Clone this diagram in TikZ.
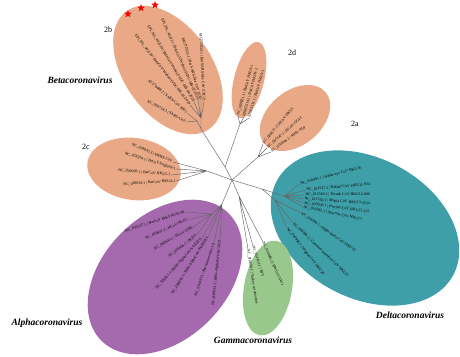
\documentclass[tikz,border=0pt]{standalone}
\usepackage{fontspec}
\setmainfont{Liberation Serif}
\usepackage{tikz}
\usepackage{xcolor}
\usetikzlibrary{shapes.geometric}
\definecolor{betaor}{HTML}{E9A986}
\definecolor{deltateal}{HTML}{3F9FA8}
\definecolor{alphapurp}{HTML}{A56AAE}
\definecolor{gammagrn}{HTML}{99C88D}

\begin{document}
\begin{tikzpicture}[x=1pt, y=-1pt,
        blob/.style={ellipse, inner sep=0pt},
        br/.style={draw=black!60, line width=0.45pt},
        leaf/.style={inner sep=0.4pt, font=\fontsize{3.9}{4.5}\selectfont},
        clade/.style={font=\fontsize{9.5}{11}\selectfont\bfseries\itshape},
        sub/.style={font=\fontsize{8}{9}\selectfont},
        redstar/.style={star, star points=5, star point ratio=2.4, fill=red, inner sep=0pt, minimum size=8pt}]
            \useasboundingbox (0,0) rectangle (460,356);

            \node[blob, fill=betaor, minimum width=144pt, minimum height=88pt, rotate=-55] (e2b) at (168,70) {};
            \node[blob, fill=betaor, minimum width=78pt, minimum height=30pt, rotate=76] (e2d) at (249,80) {};
            \node[blob, fill=betaor, minimum width=80pt, minimum height=54pt, rotate=40] (e2a) at (295,118) {};
            \node[blob, fill=betaor, minimum width=94pt, minimum height=62pt, rotate=-8] (e2c) at (134,169) {};
            \node[blob, fill=deltateal, minimum width=200pt, minimum height=140pt, rotate=-28] (edelta) at (365,228) {};
            \node[blob, fill=alphapurp, minimum width=180pt, minimum height=124pt, rotate=45] (ealpha) at (165,277) {};
            \node[blob, fill=gammagrn, minimum width=96pt, minimum height=48pt, rotate=80] (egamma) at (268,288) {};

            \node[clade] (beta) at (80,80) {Betacoronavirus};
            \node[clade] (delta) at (410,315) {Deltacoronavirus};
            \node[clade] (gamma) at (253,340) {Gammacoronavirus};
            \node[clade] (alpha) at (47,323) {Alphacoronavirus};
            \node[sub] (s2b) at (108,30) {2b};
            \node[sub] (s2d) at (292,53) {2d};
            \node[sub] (s2a) at (355,124) {2a};
            \node[sub] (s2c) at (86,147) {2c};

            \coordinate (hub) at (232,180);
            \coordinate (bi) at (225,167);
            \coordinate (b0) at (201,129);
            \coordinate (bA) at (197,121);
            \coordinate (bB) at (201,118);
            \coordinate (d0) at (240,124);
            \coordinate (a0) at (258,157);
            \coordinate (c0) at (207,171);
            \coordinate (de0) at (262,189);
            \coordinate (de1) at (284,196);
            \coordinate (de2) at (275,200);
            \coordinate (g0) at (239,196);
            \coordinate (al0) at (222,204);
            \coordinate (al1) at (212,214);

            \coordinate (t2b1) at (186,122);
            \coordinate (t2b2) at (187,113);
            \coordinate (t2b3) at (190,105);
            \coordinate (t2b4) at (194,102);
            \coordinate (t2b5) at (198,100);
            \coordinate (t2b6) at (201,101);
            \coordinate (t2b7) at (204,102);
            \coordinate (t2d1) at (238,116);
            \coordinate (t2d2) at (244,117);
            \coordinate (t2d3) at (249,118);
            \coordinate (t2a1) at (263,144);
            \coordinate (t2a2) at (267,148);
            \coordinate (t2a3) at (271,152);
            \coordinate (t2c1) at (173,162);
            \coordinate (t2c2) at (176,169);
            \coordinate (t2c3) at (171,175);
            \coordinate (t2c4) at (176,181);
            \coordinate (tde1) at (300,184);
            \coordinate (tde2) at (306,190);
            \coordinate (tde3) at (305,195);
            \coordinate (tde4) at (304,199);
            \coordinate (tde5) at (304,203);
            \coordinate (tde6) at (303,207);
            \coordinate (tde7) at (301,213);
            \coordinate (tde8) at (293,223);
            \coordinate (tde9) at (287,228);
            \coordinate (tg1) at (263,242);
            \coordinate (tg2) at (253,246);
            \coordinate (tg3) at (248,249);
            \coordinate (tal1) at (185,212);
            \coordinate (tal2) at (187,220);
            \coordinate (tal3) at (193,227);
            \coordinate (tal4) at (197,235);
            \coordinate (tal5) at (202,238);
            \coordinate (tal6) at (208,237);
            \coordinate (tal7) at (214,243);
            \coordinate (tal8) at (220,240);

            \draw[br] (hub) -- (bi) (bi) -- (b0) (b0) -- (bA) (b0) -- (bB) (bi) -- (d0);
            \draw[br] (bA) -- (t2b1) (bA) -- (t2b2);
            \draw[br] (bB) -- (t2b3) (bB) -- (t2b4) (bB) -- (t2b5) (bB) -- (t2b6) (bB) -- (t2b7);
            \draw[br] (d0) -- (t2d1) (d0) -- (t2d2) (d0) -- (t2d3);
            \draw[br] (hub) -- (a0) (a0) -- (t2a1) (a0) -- (t2a2) (a0) -- (t2a3);
            \draw[br] (hub) -- (c0) (c0) -- (t2c1) (c0) -- (t2c2) (c0) -- (t2c3) (c0) -- (t2c4);
            \draw[br] (hub) -- (de0) (de0) -- (de1) (de0) -- (de2);
            \draw[br] (de1) -- (tde1) (de1) -- (tde2) (de1) -- (tde3) (de1) -- (tde4) (de1) -- (tde5) (de1) -- (tde6);
            \draw[br] (de2) -- (tde7) (de2) -- (tde8) (de2) -- (tde9);
            \draw[br] (hub) -- (g0) (g0) -- (tg1) (g0) -- (tg2) (g0) -- (tg3);
            \draw[br] (hub) -- (al0) (al0) -- (al1) (al1) -- (tal1) (al1) -- (tal2) (al1) -- (tal3) (al1) -- (tal4);
            \draw[br] (al0) -- (tal5) (al0) -- (tal6) (al0) -- (tal7) (al0) -- (tal8);

            \node[leaf, anchor=east, rotate=-28] (n2b1) at (t2b1) {NC\_004718.3 | SARS-CoV};
            \node[leaf, anchor=east, rotate=-40] (n2b2) at (t2b2) {AY278488.2 | SARS-CoV BJ01};
            \node[leaf, anchor=east, rotate=-52] (n2b3) at (t2b3) {EPI\_ISL\_402119 | BetaCoV/Wuhan/IVDC-HB-01/2019};
            \node[leaf, anchor=east, rotate=-59] (n2b4) at (t2b4) {EPI\_ISL\_402120 | BetaCoV/Wuhan/IVDC-HB-04/2020};
            \node[leaf, anchor=east, rotate=-66] (n2b5) at (t2b5) {EPI\_ISL\_402121 | BetaCoV/Wuhan/IVDC-HB-05/2019};
            \node[leaf, anchor=east, rotate=-74] (n2b6) at (t2b6) {MG772933.1 | Bat SARS-like CoV ZC45};
            \node[leaf, anchor=east, rotate=-87] (n2b7) at (t2b7) {MG772934.1 | Bat SARS-like CoV ZXC21};
            \node[redstar] (star1) at (128,14) {};
            \node[redstar] (star2) at (141,8) {};
            \node[redstar] (star3) at (155,5) {};

            \node[leaf, anchor=west, rotate=74] (n2d1) at (t2d1) {NC\_009021.1 | BatCoV HKU9-1};
            \node[leaf, anchor=west, rotate=75] (n2d2) at (t2d2) {EF065514.1 | BatCoV HKU9-2};
            \node[leaf, anchor=west, rotate=73] (n2d3) at (t2d3) {EF065513.1 | BatCoV HKU9-1};
            \node[leaf, anchor=west, rotate=50] (n2a1) at (t2a1) {NC\_006577.2 | HCoV-HKU1};
            \node[leaf, anchor=west, rotate=41] (n2a2) at (t2a2) {NC\_005147.1 | HCoV-OC43};
            \node[leaf, anchor=west, rotate=36] (n2a3) at (t2a3) {NC\_001846.1 | MHV-A59};
            \node[leaf, anchor=east, rotate=-23] (n2c1) at (t2c1) {NC\_019843.3 | MERS-CoV};
            \node[leaf, anchor=east, rotate=-17] (n2c2) at (t2c2) {NC\_038294.1 | BtCoV-England-1};
            \node[leaf, anchor=east, rotate=-5] (n2c3) at (t2c3) {NC\_009020.1 | BatCoV HKU5-1};
            \node[leaf, anchor=east, rotate=4] (n2c4) at (t2c4) {NC\_009019.1 | BatCoV HKU4-1};

            \node[leaf, anchor=west, rotate=15] (nde1) at (tde1) {NC\_016991.1 | White-eye CoV HKU16};
            \node[leaf, anchor=west, rotate=5] (nde2) at (tde2) {NC\_011547.1 | Bulbul CoV HKU11-934};
            \node[leaf, anchor=west, rotate=0] (nde3) at (tde3) {NC\_011549.1 | Thrush CoV HKU12-600};
            \node[leaf, anchor=west, rotate=-4] (nde4) at (tde4) {NC\_011550.1 | Munia CoV HKU13-3514};
            \node[leaf, anchor=west, rotate=-8] (nde5) at (tde5) {NC\_039208.1 | Porcine CoV HKU15-155};
            \node[leaf, anchor=west, rotate=-12] (nde6) at (tde6) {NC\_016992.1 | Sparrow CoV HKU17};
            \node[leaf, anchor=west, rotate=-35] (nde7) at (tde7) {NC\_016994.1 | Night-heron CoV HKU19};
            \node[leaf, anchor=west, rotate=-44] (nde8) at (tde8) {NC\_016996.1 | Common-moorhen CoV HKU21};
            \node[leaf, anchor=west, rotate=-52] (nde9) at (tde9) {NC\_016995.1 | Wigeon CoV HKU20};

            \node[leaf, anchor=west, rotate=-66] (ng1) at (tg1) {NC\_010646.1 | BWCoV SW1};
            \node[leaf, anchor=west, rotate=-72] (ng2) at (tg2) {NC\_001451.1 | IBV};
            \node[leaf, anchor=west, rotate=-81] (ng3) at (tg3) {NC\_010800.1 | Turkey coronavirus};

            \node[leaf, anchor=east, rotate=18] (nal1) at (tal1) {NC\_032107.1 | BatCoV BtKYNL63-9b};
            \node[leaf, anchor=east, rotate=24] (nal2) at (tal2) {NC\_005831.2 | HCoV-NL63};
            \node[leaf, anchor=east, rotate=30] (nal3) at (tal3) {NC\_002645.1 | HCoV-229E};
            \node[leaf, anchor=east, rotate=38] (nal4) at (tal4) {NC\_003436.1 | PEDV};
            \node[leaf, anchor=east, rotate=48] (nal5) at (tal5) {NC\_028811.1 | BtMr-AlphaCoV/SAX2011};
            \node[leaf, anchor=east, rotate=58] (nal6) at (tal6) {NC\_028814.1 | BtRf-AlphaCoV/HuB2013};
            \node[leaf, anchor=east, rotate=71] (nal7) at (tal7) {NC\_010437.1 | Bat coronavirus 1A};
            \node[leaf, anchor=east, rotate=84] (nal8) at (tal8) {NC\_028833.1 | BtNv-AlphaCoV/SC2013};
        \end{tikzpicture}
\end{document}
